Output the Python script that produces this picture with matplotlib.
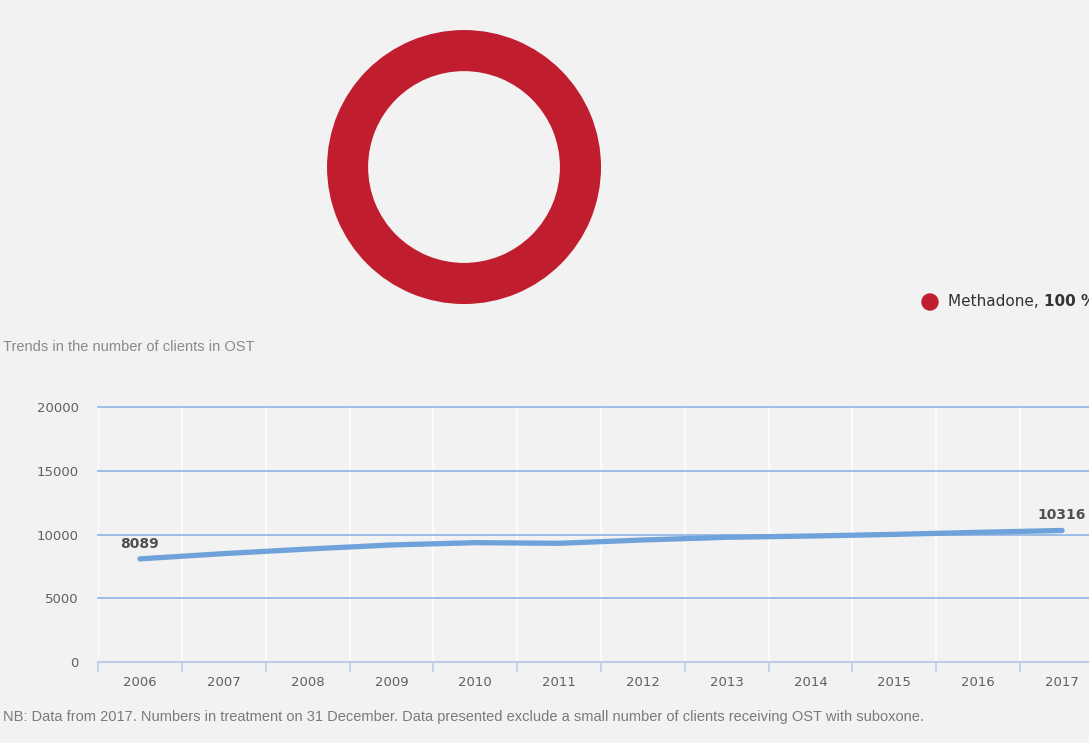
#!/usr/bin/env python3

import numpy as np
import matplotlib
matplotlib.use('Agg')
import matplotlib.pyplot as plt

# ------------------------------------------------------------
# data
# ------------------------------------------------------------
substance_labels = ["Methadone"]
substance_shares = [100]
substance_colors = ["#c01e2e"]

years = ["2006", "2007", "2008", "2009", "2010", "2011",
         "2012", "2013", "2014", "2015", "2016", "2017"]
clients = [8089, 8500, 8860, 9180, 9360, 9310,
           9570, 9780, 9880, 10010, 10170, 10316]
labelled_years = ["2006", "2017"]

y_ticks = [0, 5000, 10000, 15000, 20000]

bg = '#f2f2f2'
line_color = '#6fa2da'
grid_color = '#8fb4e3'
text_grey = '#606060'

fig = plt.figure(figsize=(10.89, 7.43), dpi=100, facecolor=bg)

# ------------------------------------------------------------
# doughnut: share of clients by substance
# ------------------------------------------------------------
ax_pie = fig.add_axes([0.3003, 0.5908, 0.2516, 0.3688])
ax_pie.set_facecolor(bg)
ax_pie.pie(substance_shares, colors=substance_colors, radius=1.0,
           startangle=90, counterclock=False,
           wedgeprops=dict(width=0.30, edgecolor='none'))
ax_pie.set_xlim(-1, 1)
ax_pie.set_ylim(-1, 1)
ax_pie.set_aspect('equal')
ax_pie.axis('off')

# legend entry, partly cut off at the right edge
fig.patches.append(matplotlib.patches.Ellipse((930 / 1089, 1 - 302 / 743),
                                              16 / 1089, 16 / 743,
                                              transform=fig.transFigure,
                                              color=substance_colors[0]))
leg = fig.text(948 / 1089, 1 - 302 / 743, substance_labels[0] + ", ",
               fontsize=11, color='#333333', va='center', ha='left')
fig.canvas.draw()
bb = leg.get_window_extent()
fig.text(bb.x1 / fig.bbox.width, 1 - 302 / 743, "%d %%" % substance_shares[0],
         fontsize=11, color='#333333', va='center', ha='left', fontweight='bold')

# ------------------------------------------------------------
# trend line
# ------------------------------------------------------------
fig.text(3 / 1089, 1 - 347 / 743, "Trends in the number of clients in OST",
         fontsize=10.5, color='#8a8a8a', family='Liberation Sans',
         va='center', ha='left')

ax = fig.add_axes([98 / 1089, 81 / 743, 1006 / 1089, 255 / 743])
ax.set_facecolor(bg)
x = np.arange(len(years))
ax.plot(x, clients, color=line_color, linewidth=3.8,
        solid_capstyle='round', solid_joinstyle='round', zorder=3)

for i, yr in enumerate(years):
    if yr in labelled_years:
        ax.annotate(str(clients[i]), (x[i], clients[i]), xytext=(0, 6),
                    textcoords='offset points', ha='center', va='bottom',
                    fontsize=10, fontweight='bold', color='#505050')

ax.set_xlim(-0.5, len(years) - 0.5)
ax.set_ylim(0, 20000)
ax.set_yticks(y_ticks)
ax.set_yticklabels([str(v) for v in y_ticks])
for v in y_ticks[1:]:
    ax.axhline(v, color=grid_color, linewidth=1.2, zorder=1, clip_on=False)

# white vertical separators between year bands
for b in np.arange(-0.5, len(years) + 0.5):
    ax.axvline(b, color='white', linewidth=1.2, zorder=0)

ax.set_xticks(x)
ax.set_xticklabels(years)
ax.set_xticks(np.arange(-0.5, len(years) + 0.5), minor=True)
ax.tick_params(axis='x', which='major', length=0, pad=10, labelsize=9.5,
               labelcolor=text_grey)
ax.tick_params(axis='x', which='minor', length=7, width=1.2,
               color='#bccde8', direction='out')
ax.tick_params(axis='y', length=0, pad=14, labelsize=9.5, labelcolor=text_grey)

for s in ['top', 'right', 'left']:
    ax.spines[s].set_visible(False)
ax.spines['bottom'].set_color('#bccde8')
ax.spines['bottom'].set_linewidth(1.5)

fig.text(3 / 1089, 1 - 717 / 743,
         "NB: Data from 2017. Numbers in treatment on 31 December. "
         "Data presented exclude a small number of clients receiving OST with suboxone.",
         fontsize=10.5, color='#7a7a7a', family='Liberation Sans',
         va='center', ha='left')

plt.savefig("out.png", dpi=100, facecolor=bg)
